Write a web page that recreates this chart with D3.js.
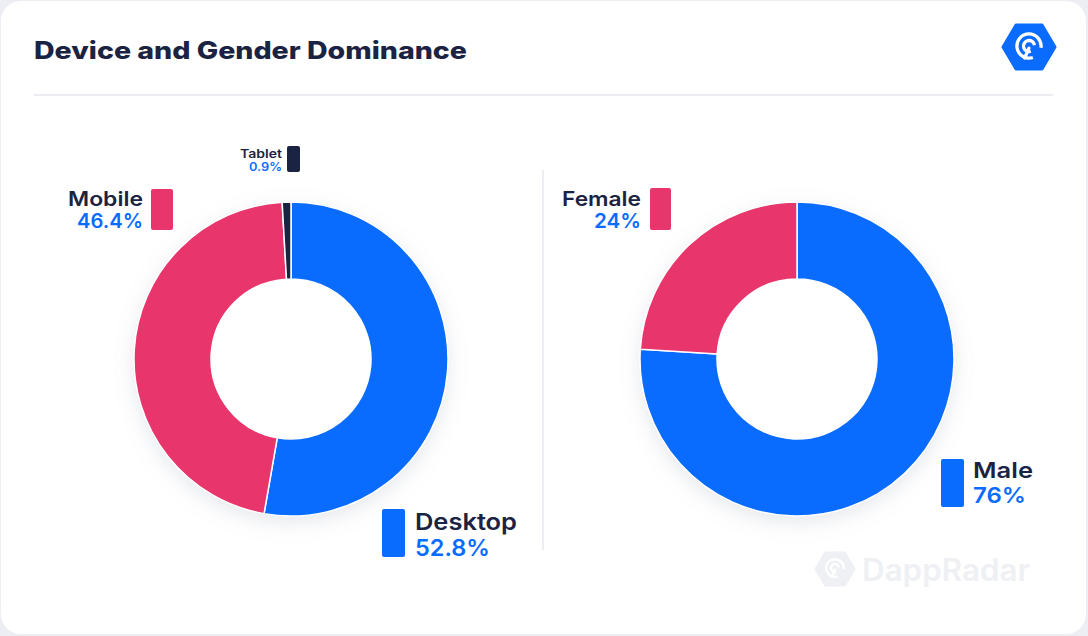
<!DOCTYPE html>
<meta charset="utf-8">
<style>
body { margin: 0; background: #eceef3; }
text { font-family: Inter, "Open Sans", sans-serif; }
</style>
<svg width="1088" height="636"></svg>
<script src="https://d3js.org/d3.v7.min.js"></script>
<script>

var deviceLabels = ["Desktop", "Mobile", "Tablet"];
var deviceValues = [52.8, 46.4, 0.9];
var deviceColors = ["#0a6cff", "#e8366d", "#1b2342"];

var genderLabels = ["Male", "Female"];
var genderValues = [76, 24];
var genderColors = ["#0a6cff", "#e8366d"];

var navy = "#1b2342", blue = "#0a6cff";

var svg = d3.select("svg");

var defs = svg.append("defs");
var f = defs.append("filter").attr("id", "shadow")
    .attr("x", "-30%").attr("y", "-30%").attr("width", "160%").attr("height", "160%");
f.append("feDropShadow").attr("dx", 0).attr("dy", 6).attr("stdDeviation", 10)
    .attr("flood-color", "#8a93a8").attr("flood-opacity", 0.22);

// card
svg.append("rect").attr("x", 1).attr("y", 1).attr("width", 1085).attr("height", 633)
    .attr("rx", 20).attr("fill", "#fff");

svg.append("text").attr("x", 34).attr("y", 59)
    .attr("font-size", 24).attr("font-weight", 800).attr("fill", navy)
    .attr("textLength", 433).attr("lengthAdjust", "spacingAndGlyphs")
    .text("Device and Gender Dominance");

svg.append("line").attr("x1", 34).attr("x2", 1053).attr("y1", 95).attr("y2", 95)
    .attr("stroke", "#ecedf2").attr("stroke-width", 2);

svg.append("line").attr("x1", 543).attr("x2", 543).attr("y1", 170).attr("y2", 550)
    .attr("stroke", "#eceef2").attr("stroke-width", 2);

// logo
function hexPath(cx, cy, w, h) {
  var p = [[cx - w / 2, cy], [cx - w / 4, cy - h / 2], [cx + w / 4, cy - h / 2],
           [cx + w / 2, cy], [cx + w / 4, cy + h / 2], [cx - w / 4, cy + h / 2]];
  return d3.line()(p) + "Z";
}
function radar(g, cx, cy, s, col) {
  var a1 = d3.arc()({innerRadius: 9.5 * s, outerRadius: 12.5 * s, startAngle: 0.2, endAngle: 2 * Math.PI - 0.9});
  var a2 = d3.arc()({innerRadius: 3.5 * s, outerRadius: 6.5 * s, startAngle: 0.2, endAngle: 2 * Math.PI - 1.2});
  g.append("path").attr("d", a1).attr("transform", "translate(" + cx + "," + cy + ") rotate(150)").attr("fill", col);
  g.append("path").attr("d", a2).attr("transform", "translate(" + cx + "," + cy + ") rotate(150)").attr("fill", col);
  g.append("line").attr("x1", cx).attr("y1", cy + 2 * s).attr("x2", cx - 4 * s).attr("y2", cy + 11 * s)
      .attr("stroke", col).attr("stroke-width", 3 * s).attr("stroke-linecap", "round");
}
var logo = svg.append("g");
logo.append("path").attr("d", hexPath(1029, 47, 52, 44)).attr("fill", blue)
    .attr("stroke", blue).attr("stroke-width", 3).attr("stroke-linejoin", "round");
radar(logo, 1029, 46, 1.1, "#fff");

// watermark
var wm = svg.append("g");
wm.append("path").attr("d", hexPath(835, 569, 38, 32)).attr("fill", "#eef0f3")
    .attr("stroke", "#eef0f3").attr("stroke-width", 3).attr("stroke-linejoin", "round");
radar(wm, 835, 568, 0.8, "#fff");
wm.append("text").attr("x", 862).attr("y", 581).attr("font-size", 31).attr("font-weight", 600)
    .attr("fill", "#eef0f3").attr("textLength", 168).attr("lengthAdjust", "spacingAndGlyphs")
    .text("DappRadar");

function donut(cx, cy, values, colors) {
  var pie = d3.pie().sort(null).value(function(d) { return d; });
  var arc = d3.arc().innerRadius(80).outerRadius(157);
  var g = svg.append("g").attr("transform", "translate(" + cx + "," + cy + ")");
  g.append("circle").attr("r", 157).attr("fill", "#fff").attr("filter", "url(#shadow)");
  g.selectAll("path").data(pie(values)).enter().append("path")
      .attr("d", arc)
      .attr("fill", function(d, i) { return colors[i]; })
      .attr("stroke", "#fff").attr("stroke-width", 1.5);
}

donut(291, 359, deviceValues, deviceColors);
donut(797, 359, genderValues, genderColors);

// label with swatch: anchor "end" puts swatch right of text, "start" left
function label(opts) {
  var g = svg.append("g");
  g.append("rect").attr("x", opts.sx).attr("y", opts.sy).attr("width", opts.sw).attr("height", opts.sh)
      .attr("rx", 2).attr("fill", opts.color);
  g.append("text").attr("x", opts.tx).attr("y", opts.ty1).attr("text-anchor", opts.anchor)
      .attr("font-size", opts.fs).attr("font-weight", 600).attr("fill", navy)
      .attr("textLength", opts.w1).attr("lengthAdjust", "spacingAndGlyphs").text(opts.name);
  g.append("text").attr("x", opts.tx).attr("y", opts.ty2).attr("text-anchor", opts.anchor)
      .attr("font-size", opts.fs).attr("font-weight", 600).attr("fill", blue)
      .attr("textLength", opts.w2).attr("lengthAdjust", "spacingAndGlyphs").text(opts.value + "%");
}

label({name: deviceLabels[1], value: deviceValues[1], color: deviceColors[1], anchor: "end",
  tx: 143, ty1: 206, ty2: 228, fs: 20, w1: 75, w2: 66, sx: 151, sy: 189, sw: 22, sh: 41});
label({name: deviceLabels[2], value: deviceValues[2], color: deviceColors[2], anchor: "end",
  tx: 282, ty1: 158, ty2: 171, fs: 11.5, w1: 42, w2: 33, sx: 287, sy: 146, sw: 13, sh: 26});
label({name: deviceLabels[0], value: deviceValues[0], color: deviceColors[0], anchor: "start",
  tx: 415, ty1: 530, ty2: 556, fs: 23, w1: 102, w2: 75, sx: 382, sy: 509, sw: 23, sh: 48});
label({name: genderLabels[1], value: genderValues[1], color: genderColors[1], anchor: "end",
  tx: 641, ty1: 206, ty2: 228, fs: 20, w1: 79, w2: 47, sx: 650, sy: 188, sw: 21, sh: 42});
label({name: genderLabels[0], value: genderValues[0], color: genderColors[0], anchor: "start",
  tx: 973, ty1: 478, ty2: 503, fs: 22, w1: 60, w2: 53, sx: 941, sy: 459, sw: 23, sh: 48});

</script>
